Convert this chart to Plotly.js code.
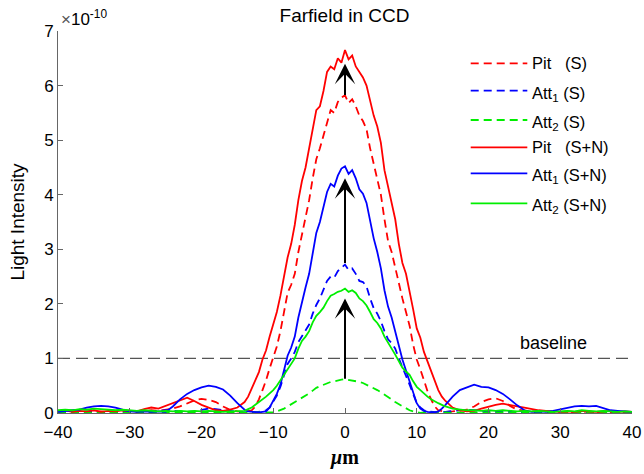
<!DOCTYPE html>
<html>
<head>
<meta charset="utf-8">
<script src="https://cdn.plot.ly/plotly-3.0.1.min.js"></script>
<style>html,body{margin:0;padding:0;background:#fff;}#chart{width:644px;height:474px;}</style>
</head>
<body>
<div id="chart"></div>
<script>
// position in micrometres: step 1 in the wings, step 0.5 in -14 .. 14
const xPos = [-40,-39,-38,-37,-36,-35,-34,-33,-32,-31,-30,-29,-28,-27,-26,-25,-24,-23,-22,-21,-20,-19,-18,-17,-16,-15,
  -14,-13.5,-13,-12.5,-12,-11.5,-11,-10.5,-10,-9.5,-9,-8.5,-8,-7.5,-7,-6.5,-6,-5.5,-5,-4.5,-4,-3.5,-3,-2.5,-2,-1.5,-1,-0.5,
  0,0.5,1,1.5,2,2.5,3,3.5,4,4.5,5,5.5,6,6.5,7,7.5,8,8.5,9,9.5,10,10.5,11,11.5,12,12.5,13,13.5,14,
  15,16,17,18,19,20,21,22,23,24,25,26,27,28,29,30,31,32,33,34,35,36,37,38,39,40];

// light intensity in units of 1e-10
const pitS = [0.02,0.01,0.03,0.02,0.01,0.02,0.03,0.01,0.02,0.03,0.02,0.04,0.03,0.05,0.04,0.06,0.08,0.12,0.18,0.23,0.26,0.24,0.20,0.12,0.06,0.03,
  0.02,0.03,0.05,0.12,0.25,0.42,0.60,0.82,1.02,1.22,1.50,1.85,2.20,2.35,2.55,2.95,3.25,3.55,3.90,4.30,4.65,4.85,5.10,5.35,5.55,5.50,5.70,5.78,
  5.82,5.68,5.75,5.62,5.45,5.35,5.20,4.85,4.55,4.30,4.00,3.55,3.15,2.95,2.65,2.35,2.10,1.85,1.60,1.25,0.98,0.80,0.60,0.40,0.25,0.12,0.05,0.03,0.02,
  0.03,0.04,0.06,0.12,0.20,0.25,0.27,0.22,0.13,0.06,0.04,0.03,0.02,0.03,0.02,0.01,0.02,0.01,0.02,0.03,0.01,0.02,0.01,0.02,0.01,0.02];
const att1S = [0.01,0.02,0.01,0.02,0.03,0.02,0.01,0.02,0.01,0.02,0.01,0.02,0.01,0.02,0.03,0.05,0.04,0.03,0.02,0.03,0.05,0.08,0.07,0.05,0.03,0.02,
  0.01,0.02,0.02,0.01,0.02,0.03,0.05,0.10,0.20,0.32,0.48,0.70,0.90,1.00,1.12,1.30,1.40,1.50,1.62,1.82,1.98,2.10,2.28,2.42,2.50,2.48,2.60,2.66,
  2.72,2.62,2.65,2.55,2.42,2.40,2.32,2.10,1.92,1.82,1.68,1.50,1.35,1.28,1.18,1.00,0.85,0.70,0.52,0.35,0.18,0.10,0.05,0.03,0.02,0.01,0.01,0.02,0.02,
  0.04,0.05,0.06,0.05,0.04,0.03,0.02,0.03,0.02,0.01,0.02,0.01,0.02,0.01,0.02,0.01,0.02,0.01,0.02,0.01,0.02,0.01,0.02,0.01,0.01,0.02];
const att2S = [0.01,0.00,0.01,0.00,0.01,0.00,0.01,0.00,0.01,0.00,0.00,0.01,0.00,0.01,0.00,0.01,0.00,0.01,0.00,0.01,0.00,0.01,0.00,0.01,0.00,0.01,
  0.00,0.01,0.01,0.00,0.00,0.01,0.01,0.00,0.01,0.03,0.05,0.08,0.12,0.16,0.20,0.24,0.27,0.31,0.36,0.41,0.46,0.49,0.52,0.55,0.57,0.58,0.60,0.61,
  0.62,0.61,0.60,0.59,0.57,0.55,0.52,0.49,0.46,0.42,0.38,0.34,0.30,0.25,0.20,0.16,0.12,0.08,0.05,0.03,0.01,0.00,0.01,0.00,0.01,0.00,0.01,0.00,0.01,
  0.00,0.01,0.00,0.01,0.00,0.01,0.00,0.01,0.00,0.01,0.00,0.01,0.00,0.01,0.00,0.01,0.00,0.01,0.00,0.01,0.00,0.01,0.00,0.01,0.00,0.01];
const pitSN = [0.03,0.05,0.02,0.04,0.03,0.05,0.02,0.04,0.03,0.05,0.04,0.03,0.07,0.10,0.08,0.13,0.18,0.24,0.28,0.22,0.15,0.10,0.05,0.04,0.06,0.10,
  0.20,0.30,0.45,0.58,0.75,0.98,1.15,1.40,1.62,1.85,2.15,2.50,2.85,3.10,3.45,3.90,4.25,4.50,4.85,5.25,5.55,5.62,5.90,6.25,6.35,6.30,6.50,6.42,
  6.65,6.48,6.55,6.35,6.25,6.15,6.00,5.70,5.45,5.25,4.95,4.45,4.15,3.90,3.55,3.10,2.75,2.55,2.25,1.90,1.55,1.38,1.12,0.95,0.78,0.60,0.42,0.30,0.22,
  0.10,0.05,0.03,0.04,0.08,0.12,0.15,0.17,0.14,0.12,0.10,0.07,0.05,0.04,0.03,0.02,0.03,0.02,0.04,0.03,0.02,0.03,0.04,0.02,0.03,0.02];
const att1SN = [0.02,0.04,0.05,0.06,0.10,0.12,0.13,0.12,0.10,0.06,0.03,0.02,0.03,0.02,0.03,0.02,0.12,0.25,0.35,0.42,0.47,0.50,0.48,0.43,0.32,0.18,
  0.06,0.03,0.02,0.01,0.01,0.02,0.03,0.10,0.22,0.35,0.52,0.80,1.05,1.20,1.40,1.75,2.05,2.30,2.55,2.95,3.30,3.50,3.75,4.05,4.20,4.15,4.35,4.48,
  4.52,4.38,4.45,4.30,4.10,4.02,3.85,3.50,3.20,2.95,2.65,2.25,1.95,1.75,1.50,1.20,0.98,0.78,0.57,0.35,0.18,0.08,0.04,0.02,0.02,0.01,0.03,0.08,0.15,
  0.30,0.42,0.47,0.52,0.48,0.47,0.42,0.35,0.25,0.14,0.05,0.02,0.03,0.02,0.04,0.07,0.10,0.12,0.13,0.12,0.13,0.09,0.05,0.04,0.03,0.02];
const att2SN = [0.05,0.06,0.05,0.07,0.06,0.08,0.07,0.06,0.05,0.06,0.05,0.04,0.05,0.04,0.03,0.04,0.03,0.04,0.03,0.04,0.03,0.04,0.03,0.02,0.03,0.03,
  0.04,0.07,0.10,0.15,0.20,0.24,0.30,0.36,0.42,0.50,0.60,0.72,0.82,0.90,1.00,1.18,1.32,1.40,1.50,1.66,1.78,1.85,1.93,2.05,2.15,2.18,2.22,2.24,
  2.28,2.22,2.25,2.20,2.10,2.05,1.97,1.85,1.72,1.65,1.55,1.40,1.28,1.18,1.07,0.95,0.83,0.76,0.70,0.58,0.48,0.42,0.35,0.30,0.25,0.21,0.18,0.15,0.12,
  0.08,0.06,0.05,0.05,0.04,0.05,0.04,0.05,0.04,0.03,0.04,0.03,0.04,0.03,0.02,0.03,0.04,0.03,0.05,0.04,0.03,0.04,0.03,0.02,0.03,0.02];

const seriesNames = ['Pit\u00a0\u00a0\u00a0(S)','Att<sub>1</sub> (S)','Att<sub>2</sub> (S)',
                     'Pit\u00a0\u00a0\u00a0(S+N)','Att<sub>1</sub> (S+N)','Att<sub>2</sub> (S+N)'];
const seriesData = [pitS, att1S, att2S, pitSN, att1SN, att2SN];
const seriesColors = ['#ff0000','#0000ff','#00ee00','#ff0000','#0000ff','#00ee00'];
const seriesDash = ['8px,5px','8px,5px','8px,5px','solid','solid','solid'];

// arrows (from -> to), at x = 0
const arrowX = [0, 0, 0];
const arrowFrom = [0.6, 2.72, 5.8];
const arrowTo = [2.1, 4.3, 6.4];

const baselineValue = 1;
const xTicks = [-40,-30,-20,-10,0,10,20,30,40];
const yTicks = [0,1,2,3,4,5,6,7];

// hand-placed legend rows (paper coords)
const legendRowY = [0.9155, 0.8437, 0.767, 0.6955, 0.6275, 0.549];
const legendLineX = [0.719, 0.8176];
const legendTextX = 0.8223;

const traces = seriesData.map((d, i) => ({
  x: xPos, y: d, type: 'scatter', mode: 'lines', name: seriesNames[i],
  line: {color: seriesColors[i], width: 1.8, dash: seriesDash[i]},
  hoverinfo: 'skip', showlegend: false
}));

const annotations = arrowX.map((ax, i) => ({
  x: ax, y: arrowTo[i], ax: ax, ay: arrowFrom[i], xref: 'x', yref: 'y', axref: 'x', ayref: 'y',
  showarrow: true, arrowhead: 3, arrowsize: 1.7, arrowwidth: 2, arrowcolor: '#000', text: ''
}));
annotations.push({x: 29, y: baselineValue, xref: 'x', yref: 'y', yanchor: 'bottom', yshift: 3,
  text: 'baseline', showarrow: false, font: {size: 18, color: '#000'}});
annotations.push({x: 0, y: 1, xref: 'paper', yref: 'paper', xanchor: 'left', yanchor: 'bottom',
  xshift: 1, yshift: 0, showarrow: false,
  text: '<span style="color:#555">×</span>10<sup>-10</sup>', font: {size: 17, color: '#000'}});

const shapes = [{type: 'line', xref: 'x', yref: 'y', x0: xTicks[0], x1: xTicks[xTicks.length-1], y0: baselineValue, y1: baselineValue,
  line: {color: '#555', width: 1.2, dash: '12px,6px'}, layer: 'below'}];

seriesNames.forEach((nm, i) => {
  shapes.push({type: 'line', xref: 'paper', yref: 'paper', x0: legendLineX[0], x1: legendLineX[1],
    y0: legendRowY[i], y1: legendRowY[i], line: {color: seriesColors[i], width: 1.8, dash: seriesDash[i]}});
  annotations.push({x: legendTextX, y: legendRowY[i], xref: 'paper', yref: 'paper', xanchor: 'left', yanchor: 'middle',
    yshift: nm.indexOf('<sub>') >= 0 ? -3 : 0,
    text: nm, showarrow: false, font: {size: 16.5, color: '#000'}});
});

const layout = {
  width: 644, height: 474,
  margin: {l: 58, r: 12, t: 31, b: 61},
  paper_bgcolor: '#fff', plot_bgcolor: '#fff',
  font: {family: '"Liberation Sans", Arial, sans-serif', size: 17, color: '#000'},
  title: {text: 'Farfield in CCD', x: 0.535, xanchor: 'center', y: 0.968, yanchor: 'middle', font: {size: 19}},
  xaxis: {range: [-40, 40], tickvals: xTicks, ticks: 'inside', ticklen: 5, tickcolor: '#666',
    showline: true, linecolor: '#666', linewidth: 1, zeroline: false, showgrid: false,
    tickfont: {size: 17}, ticklabelstandoff: 4,
    title: {text: '<b><i>μ</i>m</b>', font: {family: '"Liberation Serif", "Times New Roman", serif', size: 20}, standoff: 8}},
  yaxis: {range: [0, 7], tickvals: yTicks, ticks: 'inside', ticklen: 5, tickcolor: '#666',
    showline: true, linecolor: '#666', linewidth: 1, zeroline: false, showgrid: false,
    tickfont: {size: 17},
    title: {text: 'Light Intensity', font: {size: 19}, standoff: 14}},
  shapes: shapes,
  annotations: annotations,
  showlegend: false
};

Plotly.newPlot('chart', traces, layout, {displayModeBar: false, staticPlot: true});
</script>
</body>
</html>
